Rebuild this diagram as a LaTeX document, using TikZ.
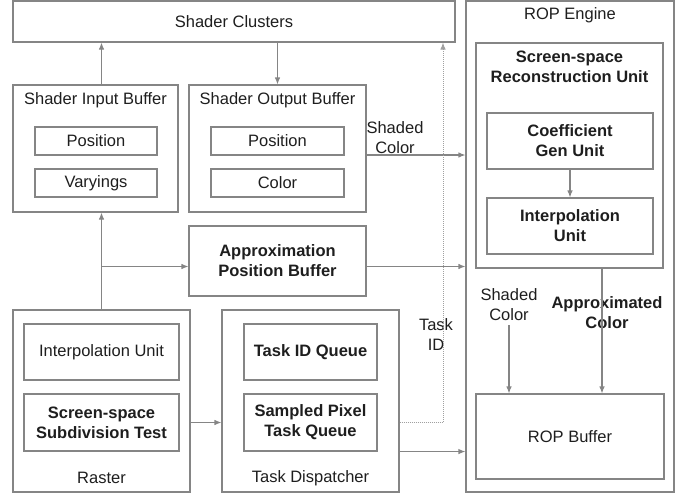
\documentclass[tikz,border=0pt]{standalone}
\usepackage{fontspec}
\setmainfont{Liberation Sans}
\usetikzlibrary{arrows.meta}
\definecolor{linegray}{HTML}{858585}
\definecolor{dotgray}{HTML}{A0A0A0}
\definecolor{inkgray}{HTML}{1E1E1E}
\begin{document}
\begin{tikzpicture}
        [x=1pt, y=-1pt,
        every node/.style={text=inkgray, font=\fontsize{16.5}{20}\selectfont, align=center, inner sep=0pt},
        box/.style={draw=linegray, line width=1.1pt},
        arr/.style={draw=linegray, line width=1.1pt, -{Latex[length=7pt,width=5.5pt]}},
        dotarr/.style={draw=dotgray, line width=1pt, dash pattern=on 1pt off 1pt, -{Latex[length=7pt,width=5.5pt]}},
        bf/.style={font=\fontsize{16.5}{20}\selectfont\bfseries},
        ]
        \useasboundingbox (0,0) rectangle (688,493);
        % containers
        \node[box, minimum width=442pt, minimum height=41pt] (clusters) at (234,21.5) {Shader Clusters};
        \node[box, minimum width=208pt, minimum height=491pt] (rop) at (570,246.5) {};
        \node (ropt) at (570,15) {ROP Engine};
        \node[box, minimum width=187pt, minimum height=225pt] (recon) at (569.5,155.5) {};
        \node[bf] (recont) at (569.5,67) {Screen-space\\Reconstruction Unit};
        \node[box, bf, minimum width=166pt, minimum height=56pt] (coef) at (570,141) {Coefficient\\Gen Unit};
        \node[box, bf, minimum width=166pt, minimum height=56pt] (rinterp) at (570,226) {Interpolation\\Unit};
        \node[box, minimum width=188pt, minimum height=85pt] (ropbuf) at (570,436.5) {ROP Buffer};

        \node[box, minimum width=165pt, minimum height=127pt] (sib) at (95.5,148.5) {};
        \node (sibt) at (95.5,100) {Shader Input Buffer};
        \node[box, minimum width=122pt, minimum height=28pt] (sibpos) at (96,141) {Position};
        \node[box, minimum width=122pt, minimum height=28pt] (sibvar) at (96,183) {Varyings};

        \node[box, minimum width=177pt, minimum height=127pt] (sob) at (277.5,148.5) {};
        \node (sobt) at (277.5,100) {Shader Output Buffer};
        \node[box, minimum width=133pt, minimum height=28pt] (sobpos) at (277.5,141) {Position};
        \node[box, minimum width=133pt, minimum height=28pt] (sobcol) at (277.5,183) {Color};

        \node[box, bf, minimum width=177pt, minimum height=70pt] (apb) at (277.5,261) {Approximation\\Position Buffer};

        \node[box, minimum width=177pt, minimum height=182pt] (raster) at (101.5,401) {};
        \node (rastert) at (101.5,478) {Raster};
        \node[box, minimum width=155pt, minimum height=56pt] (interp) at (101.5,352) {Interpolation Unit};
        \node[box, bf, minimum width=155pt, minimum height=57pt] (subdiv) at (101.5,422.5) {Screen-space\\Subdivision Test};

        \node[box, minimum width=177pt, minimum height=182pt] (disp) at (310.5,401) {};
        \node (dispt) at (310.5,478) {Task Dispatcher};
        \node[box, bf, minimum width=133pt, minimum height=56pt] (tidq) at (310.5,352) {Task ID Queue};
        \node[box, bf, minimum width=133pt, minimum height=57pt] (spq) at (310.5,422.5) {Sampled Pixel\\Task Queue};

        % edge labels
        \node (shc) at (395,138) {Shaded\\Color};
        \node (tid) at (436,335) {Task\\ID};
        \node (shc2) at (509,305) {Shaded\\Color};
        \node[bf] (apc) at (607,313) {Approximated\\Color};
        \coordinate (tidx) at (443,0);
        \coordinate (apx) at (602,0);

        % connectors
        \draw[arr] (sib.north -| raster.north) -- (clusters.south -| raster.north);
        \draw[arr] (clusters.south -| sob.north) -- (sob.north);
        \draw[arr] (raster.north) -- (sib.south -| raster.north);
        \draw[arr] ([yshift=-5.5pt]apb.west -| raster.north) -- ([yshift=-5.5pt]apb.west);
        \draw[arr] ([yshift=-5.5pt]apb.east) -- ([yshift=-5.5pt]apb.east -| rop.west);
        \draw[arr] ([yshift=-6.5pt]sob.east) -- ([yshift=-6.5pt]sob.east -| rop.west);
        \draw[arr] (subdiv.east -| raster.east) -- (subdiv.east -| disp.west);
        \draw[dotarr] (spq.east -| disp.east) -| (clusters.south -| tidx);
        \draw[arr] (spq.south -| disp.east) -- (spq.south -| rop.west);
        \draw[arr] (coef) -- (rinterp);
        \draw[arr] (recon.south -| apx) -- (ropbuf.north -| apx);
        \draw[arr] ([yshift=-4pt]shc2.south) -- (ropbuf.north -| shc2.south);
\end{tikzpicture}
\end{document}
